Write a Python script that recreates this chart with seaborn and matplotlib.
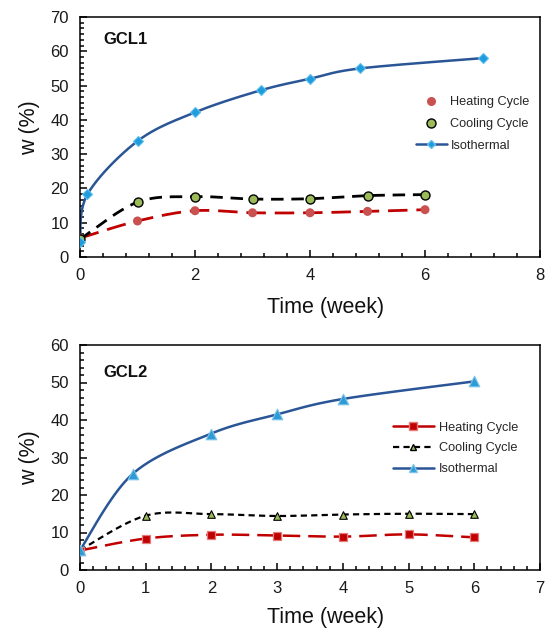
import numpy as np
import pandas as pd
import matplotlib
matplotlib.use("Agg")
import matplotlib.pyplot as plt
from matplotlib.ticker import MultipleLocator
from matplotlib.lines import Line2D
import seaborn as sns

# ---- GCL1 water content (%) vs time (week) ----
gcl1_heat_t = [0, 1, 2, 3, 4, 5, 6]
gcl1_heat_w = [5.5, 10.5, 13.5, 12.9, 12.9, 13.3, 13.8]
gcl1_cool_t = [0, 1, 2, 3, 4, 5, 6]
gcl1_cool_w = [5.2, 16.0, 17.6, 16.9, 17.0, 17.9, 18.2]
gcl1_iso_t = [0, 0.13, 1, 2, 3.14, 4, 4.87, 7]
gcl1_iso_w = [4.5, 18.3, 33.8, 42.2, 48.6, 52.0, 55.0, 58.0]

# ---- GCL2 water content (%) vs time (week) ----
gcl2_heat_t = [0, 1, 2, 3, 4, 5, 6]
gcl2_heat_w = [5.2, 8.4, 9.4, 9.2, 8.9, 9.5, 8.7]
gcl2_cool_t = [0, 1, 2, 3, 4, 5, 6]
gcl2_cool_w = [5.3, 14.5, 14.9, 14.4, 14.8, 15.0, 14.9]
gcl2_iso_t = [0, 0.8, 2, 3, 4, 6]
gcl2_iso_w = [5.3, 25.6, 36.4, 41.5, 45.6, 50.3]

series_names = ["Heating Cycle", "Cooling Cycle", "Isothermal"]

sns.set_theme(style="white")
plt.rcParams["font.family"] = ["Liberation Sans", "DejaVu Sans"]
plt.rcParams["axes.linewidth"] = 1.1


def smooth_curve(t, w, steps=24):
    """Bezier smoothing through the points (spreadsheet-style smoothed line)."""
    p = np.column_stack([t, w]).astype(float)
    n = len(p)
    out = []
    for i in range(n - 1):
        p0 = p[i - 1] if i > 0 else p[i]
        p1, p2 = p[i], p[i + 1]
        p3 = p[i + 2] if i + 2 < n else p[i + 1]
        c1 = p1 + (p2 - p0) / 6.0
        c2 = p2 - (p3 - p1) / 6.0
        s = np.linspace(0, 1, steps, endpoint=(i == n - 2))[:, None]
        seg = ((1 - s) ** 3) * p1 + 3 * ((1 - s) ** 2) * s * c1 + 3 * (1 - s) * s ** 2 * c2 + s ** 3 * p2
        out.append(seg)
    out = np.vstack(out)
    return pd.DataFrame({"t": out[:, 0], "w": out[:, 1]})


def draw_series(ax, t, w, line_kw, marker_kw):
    curve = smooth_curve(t, w)
    sns.lineplot(data=curve, x="t", y="w", sort=False, estimator=None, ax=ax, **line_kw)
    pts = pd.DataFrame({"t": t, "w": w})
    sns.scatterplot(data=pts, x="t", y="w", ax=ax, zorder=5, **marker_kw)


fig = plt.figure(figsize=(5.55, 6.33), dpi=100)
ax1 = fig.add_axes([80 / 555, 1 - 257 / 633, 460 / 555, 240 / 633])
ax2 = fig.add_axes([80 / 555, 1 - 570 / 633, 460 / 555, 225 / 633])

red_line = "#C00000"
blue_line = "#2A5596"

# GCL1
draw_series(ax1, gcl1_heat_t, gcl1_heat_w,
            dict(color=red_line, linewidth=2.0, dashes=(7.0, 3.2)),
            dict(marker="o", s=42, color="#C9514F", edgecolor="none"))
draw_series(ax1, gcl1_cool_t, gcl1_cool_w,
            dict(color="black", linewidth=2.0, dashes=(4.5, 2.8)),
            dict(marker="o", s=42, color="#9BBB59", edgecolor="black", linewidth=1.0))
draw_series(ax1, gcl1_iso_t, gcl1_iso_w,
            dict(color=blue_line, linewidth=1.8),
            dict(marker="D", s=26, color="#1E9CDB", edgecolor="#5FC0EE", linewidth=0.8))

# GCL2
draw_series(ax2, gcl2_heat_t, gcl2_heat_w,
            dict(color=red_line, linewidth=1.8, dashes=(7.0, 3.2)),
            dict(marker="s", s=34, color="#C00000", edgecolor="#E77A7A", linewidth=0.9))
draw_series(ax2, gcl2_cool_t, gcl2_cool_w,
            dict(color="black", linewidth=1.6, dashes=(2.8, 1.9)),
            dict(marker="^", s=30, color="#9BBB59", edgecolor="black", linewidth=0.8))
draw_series(ax2, gcl2_iso_t, gcl2_iso_w,
            dict(color=blue_line, linewidth=1.8),
            dict(marker="^", s=58, color="#2E9BD6", edgecolor="#7CC3EC", linewidth=0.8))

for ax, xmax, ymax, xminor, yminor, tag, tag_y, ylab_y in [
    (ax1, 8, 70, 0.4, 10 / 6, "GCL1", 0.908, 0.54),
    (ax2, 7, 60, 0.2, 2, "GCL2", 0.878, 0.5),
]:
    ax.set_xlim(0, xmax)
    ax.set_ylim(0, ymax)
    ax.xaxis.set_major_locator(MultipleLocator(2 if xmax == 8 else 1))
    ax.xaxis.set_minor_locator(MultipleLocator(xminor))
    ax.yaxis.set_major_locator(MultipleLocator(10))
    ax.yaxis.set_minor_locator(MultipleLocator(yminor))
    ax.tick_params(which="both", direction="in", bottom=True, left=True, top=False, right=False,
                   color="black", width=1.1)
    ax.tick_params(which="major", length=5, labelsize=12, pad=8, labelcolor="#1a1a1a")
    ax.tick_params(which="minor", length=3)
    for sp in ax.spines.values():
        sp.set_color("black")
        sp.set_visible(True)
    ax.set_xlabel("Time (week)", fontsize=15.5, color="#111111")
    ax.set_ylabel("w (%)", fontsize=15.5, color="#111111")
    ax.xaxis.label.set_va("center")
    ax.yaxis.label.set_va("center")
    ax.xaxis.set_label_coords(0.533, -0.2125)
    ax.yaxis.set_label_coords(-0.11, ylab_y)
    ax.text(0.05, tag_y, tag, transform=ax.transAxes, fontsize=12, fontweight="bold",
            va="center", ha="left", color="#111111")

# Legends
top_handles = [
    Line2D([], [], linestyle="none", marker="o", markersize=6.5, color="#C9514F", markeredgecolor="none"),
    Line2D([], [], linestyle="none", marker="o", markersize=6.5, color="#9BBB59", markeredgecolor="black"),
    Line2D([], [], color=blue_line, linewidth=1.8, marker="D", markersize=4.5,
           markerfacecolor="#1E9CDB", markeredgecolor="#5FC0EE"),
]
fig.legend(top_handles, series_names, loc="center left", bbox_to_anchor=(416 / 555, 1 - 124 / 633),
           frameon=False, fontsize=9.2, handlelength=2.4, handletextpad=0.3, labelspacing=0.75,
           borderpad=0, borderaxespad=0)

bot_handles = [
    Line2D([], [], color=red_line, linewidth=1.8, marker="s", markersize=5.5,
           markerfacecolor="#C00000", markeredgecolor="#E77A7A"),
    Line2D([], [], color="black", linewidth=1.6, dashes=(2.8, 1.9), marker="^", markersize=5,
           markerfacecolor="#9BBB59", markeredgecolor="black"),
    Line2D([], [], color=blue_line, linewidth=1.8, marker="^", markersize=6,
           markerfacecolor="#2E9BD6", markeredgecolor="#7CC3EC"),
]
fig.legend(bot_handles, series_names, loc="center left", bbox_to_anchor=(393 / 555, 1 - 448.5 / 633),
           frameon=False, fontsize=9.2, handlelength=3.2, handletextpad=0.4, labelspacing=0.7,
           borderpad=0, borderaxespad=0)

fig.savefig("out.png", dpi=100, facecolor="white")
